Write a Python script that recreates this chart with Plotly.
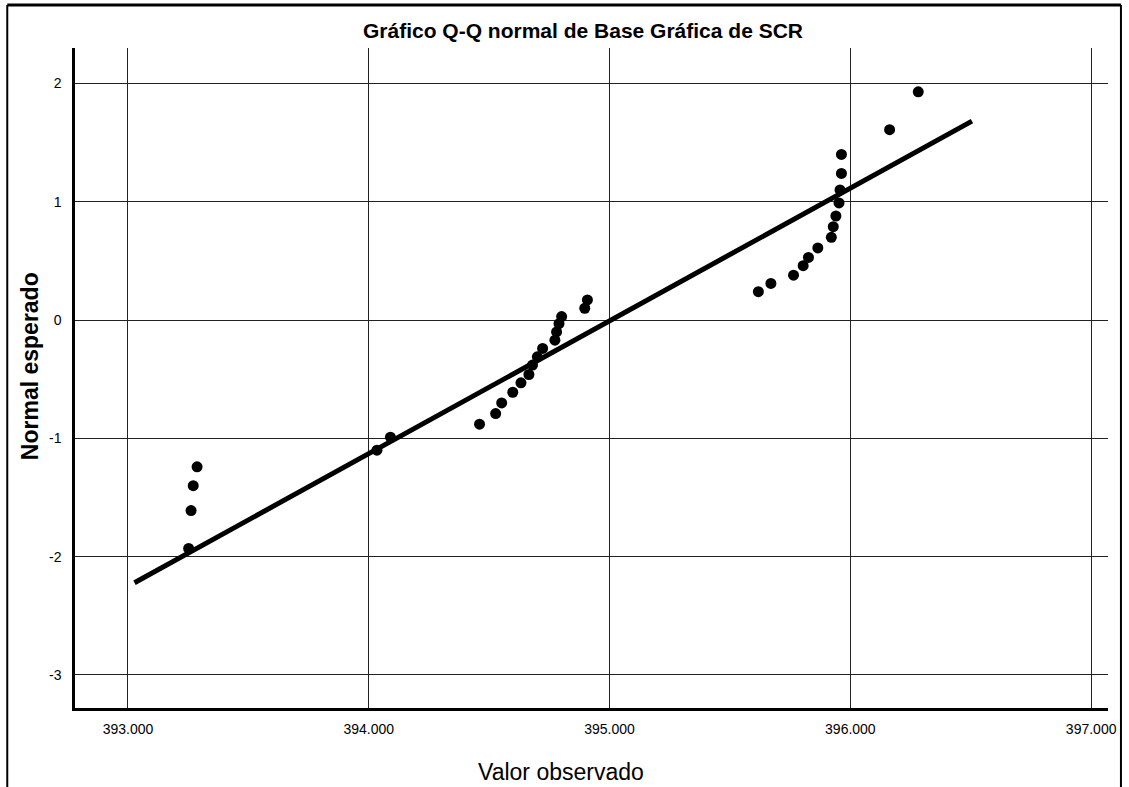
import plotly.graph_objects as go

observed = [393.252, 393.262, 393.271, 393.287,
            394.034, 394.090,
            394.460, 394.527, 394.552, 394.598, 394.632, 394.665, 394.680, 394.700,
            394.722, 394.773, 394.780, 394.790, 394.801, 394.897, 394.908,
            395.618, 395.670, 395.764, 395.804, 395.826, 395.865, 395.921, 395.929,
            395.940, 395.953, 395.957, 395.963, 395.963, 396.163, 396.282]
expected = [-1.93, -1.61, -1.40, -1.24,
            -1.10, -0.99,
            -0.88, -0.79, -0.70, -0.61, -0.53, -0.46, -0.38, -0.31,
            -0.24, -0.17, -0.10, -0.03, 0.03, 0.10, 0.17,
            0.24, 0.31, 0.38, 0.46, 0.53, 0.61, 0.70, 0.79,
            0.88, 0.99, 1.10, 1.24, 1.40, 1.61, 1.93]

# Reference line end points
line_x = [393.027, 396.505]
line_y = [-2.22, 1.682]

x_ticks = [393, 394, 395, 396, 397]
x_tick_labels = ["393.000", "394.000", "395.000", "396.000", "397.000"]
y_ticks = [-3, -2, -1, 0, 1, 2]
y_tick_labels = ["-3", "-2", "-1", "0", "1", "2"]

ARIAL = "Liberation Sans, Arial, sans-serif"

fig = go.Figure()
fig.add_trace(go.Scatter(x=line_x, y=line_y, mode="lines",
                         line=dict(color="black", width=5), showlegend=False,
                         hoverinfo="skip"))
fig.add_trace(go.Scatter(x=observed, y=expected, mode="markers",
                         marker=dict(color="black", size=11), showlegend=False))

W, H = 1129, 787
L, R, T, B = 75, 17, 48, 79
pw, ph = W - L - R, H - T - B

def px(xp):
    return (xp - L) / pw

def py(yp):
    return (H - B - yp) / ph

fig.update_layout(
    width=W, height=H,
    margin=dict(l=L, r=R, t=T, b=B),
    paper_bgcolor="white", plot_bgcolor="white",
    title=dict(text="<b>Gráfico Q-Q normal de Base Gráfica de SCR</b>",
               font=dict(family=ARIAL, size=21, color="black"),
               x=583 / W, xanchor="center", xref="container",
               y=1 - 31 / H, yanchor="middle", yref="container"),
    xaxis=dict(range=[392.78, 397.07], tickvals=x_ticks, ticktext=x_tick_labels,
               showgrid=True, gridcolor="#222", gridwidth=1.3,
               showline=True, linecolor="black", linewidth=2.5,
               zeroline=False, ticks="", ticklabelstandoff=6,
               tickfont=dict(family=ARIAL, size=14, color="black")),
    yaxis=dict(range=[-3.279, 2.30], tickvals=y_ticks, ticktext=y_tick_labels,
               showgrid=True, gridcolor="#222", gridwidth=1.3,
               showline=True, linecolor="black", linewidth=2.5,
               zeroline=False, ticks="", ticklabelstandoff=8,
               tickfont=dict(family=ARIAL, size=14, color="black")),
    annotations=[
        dict(text="Valor observado", xref="paper", yref="paper",
             x=px(563), y=py(772), xanchor="center", yanchor="middle",
             showarrow=False, font=dict(family=ARIAL, size=23, color="black")),
        dict(text="<b>Normal esperado</b>", xref="paper", yref="paper",
             x=px(30), y=py(366), xanchor="center", yanchor="middle",
             textangle=-90, showarrow=False,
             font=dict(family=ARIAL, size=23, color="black")),
    ],
    shapes=[
        dict(type="line", xref="paper", yref="paper", x0=px(7), x1=px(7),
             y0=py(5), y1=py(800), line=dict(color="black", width=2)),
        dict(type="line", xref="paper", yref="paper", x0=px(7), x1=px(1125),
             y0=py(5), y1=py(5), line=dict(color="black", width=3)),
        dict(type="line", xref="paper", yref="paper", x0=px(1125), x1=px(1125),
             y0=py(5), y1=py(800), line=dict(color="black", width=2)),
    ],
)

fig.write_html("out.html", config={"displayModeBar": False},
               post_script="document.body.style.margin='0';document.body.style.overflow='hidden';")
